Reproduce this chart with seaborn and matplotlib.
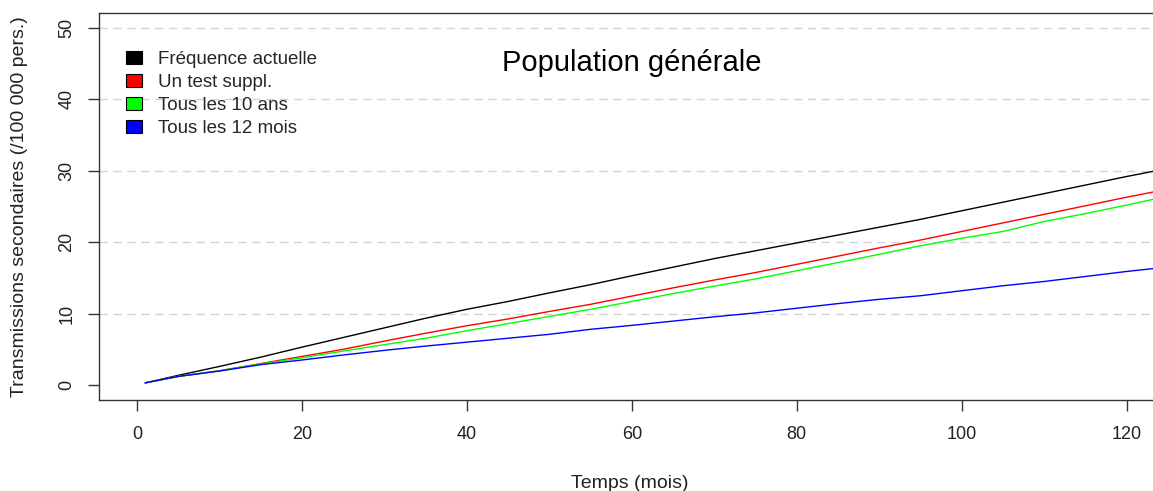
import numpy as np
import pandas as pd
import matplotlib
matplotlib.use('agg')
import matplotlib.pyplot as plt
import seaborn as sns
from matplotlib.patches import Patch

# months
months = [1, 5, 10, 15, 20, 25, 30, 35, 40, 45, 50, 55, 60, 65, 70, 75, 80,
          85, 90, 95, 100, 105, 110, 115, 120, 124]

freq_actuelle = [0.3, 1.35, 2.6, 3.9, 5.3, 6.65, 8.0, 9.35, 10.6, 11.7, 12.9,
                 14.05, 15.3, 16.5, 17.7, 18.8, 19.9, 21.0, 22.1, 23.2, 24.4,
                 25.6, 26.8, 28.0, 29.2, 30.1]
test_suppl = [0.3, 1.2, 2.0, 3.0, 4.0, 5.0, 6.15, 7.25, 8.3, 9.25, 10.3,
              11.3, 12.45, 13.6, 14.7, 15.75, 16.9, 18.05, 19.2, 20.3, 21.5,
              22.7, 23.9, 25.1, 26.3, 27.2]
tous_10_ans = [0.3, 1.2, 2.0, 2.95, 3.8, 4.75, 5.65, 6.55, 7.6, 8.6, 9.6,
               10.6, 11.7, 12.8, 13.85, 14.85, 16.0, 17.15, 18.3, 19.5, 20.55,
               21.5, 22.9, 24.0, 25.2, 26.2]
tous_12_mois = [0.3, 1.2, 1.95, 2.85, 3.5, 4.2, 4.85, 5.45, 6.0, 6.55, 7.1,
                7.8, 8.35, 8.95, 9.55, 10.1, 10.75, 11.4, 12.0, 12.5, 13.2,
                13.9, 14.5, 15.2, 15.9, 16.4]

labels = ["Fréquence actuelle", "Un test suppl.", "Tous les 10 ans", "Tous les 12 mois"]
colors = ["#000000", "#FF0000", "#00FF00", "#0000FF"]
x_ticks = [0, 20, 40, 60, 80, 100, 120]
y_ticks = [0, 10, 20, 30, 40, 50]
grid_levels = [10, 20, 30, 40, 50]

series = [freq_actuelle, test_suppl, tous_10_ans, tous_12_mois]
df = pd.concat([pd.DataFrame({"mois": months, "val": s, "scenario": lab})
                for s, lab in zip(series, labels)], ignore_index=True)

sns.set_theme(style="white")
plt.rcParams['font.family'] = ['Liberation Sans', 'DejaVu Sans']

fig = plt.figure(figsize=(11.53, 4.91), dpi=100)
ax = fig.add_axes([99/1153, 1 - 400/491, 1 - 99/1153, (400 - 13)/491])

# dashed horizontal guides
for lvl in grid_levels:
    ax.axhline(lvl, color="#d3d3d3", lw=1.0, dashes=(6, 4), zorder=0)

sns.lineplot(data=df, x="mois", y="val", hue="scenario", hue_order=labels,
             palette=dict(zip(labels, colors)), lw=1.0, ax=ax, legend=False)

ax.set_xlim(-4.6, 123.2)
ax.set_ylim(-2.1, 52.1)
ax.set_xticks(x_ticks)
ax.set_yticks(y_ticks)
ax.tick_params(axis='both', direction='out', length=8, width=1, color="#333333",
               labelsize=13, labelcolor="#222222", left=True, bottom=True)
ax.tick_params(axis='x', pad=11)
ax.tick_params(axis='y', pad=9, labelrotation=90)
for t in ax.get_yticklabels():
    t.set_va('center')

for side in ['left', 'bottom', 'top']:
    ax.spines[side].set_color("#333333")
    ax.spines[side].set_linewidth(1.0)
ax.spines['right'].set_visible(False)

ax.set_xlabel("Temps (mois)", fontsize=14, color="#222222", va='center')
ax.set_ylabel("Transmissions secondaires (/100 000 pers.)", fontsize=14,
              color="#222222", va='center')
ax.xaxis.set_label_coords(0.504, -0.216)
ax.yaxis.set_label_coords(-0.0759, 0.5)

ax.text(0.5057, 0.871, "Population générale", transform=ax.transAxes,
        fontsize=21, ha='center', va='center', color="black")

handles = [Patch(facecolor=c, edgecolor="black", lw=0.8) for c in colors]
ax.legend(handles, labels, loc='upper left', bbox_to_anchor=(0.0256, 0.902),
          frameon=False, fontsize=13.5, handlelength=0.85, handleheight=0.64,
          handletextpad=0.85, labelspacing=0.32, borderaxespad=0, borderpad=0)

fig.savefig("out.png", dpi=100)
plt.close(fig)
